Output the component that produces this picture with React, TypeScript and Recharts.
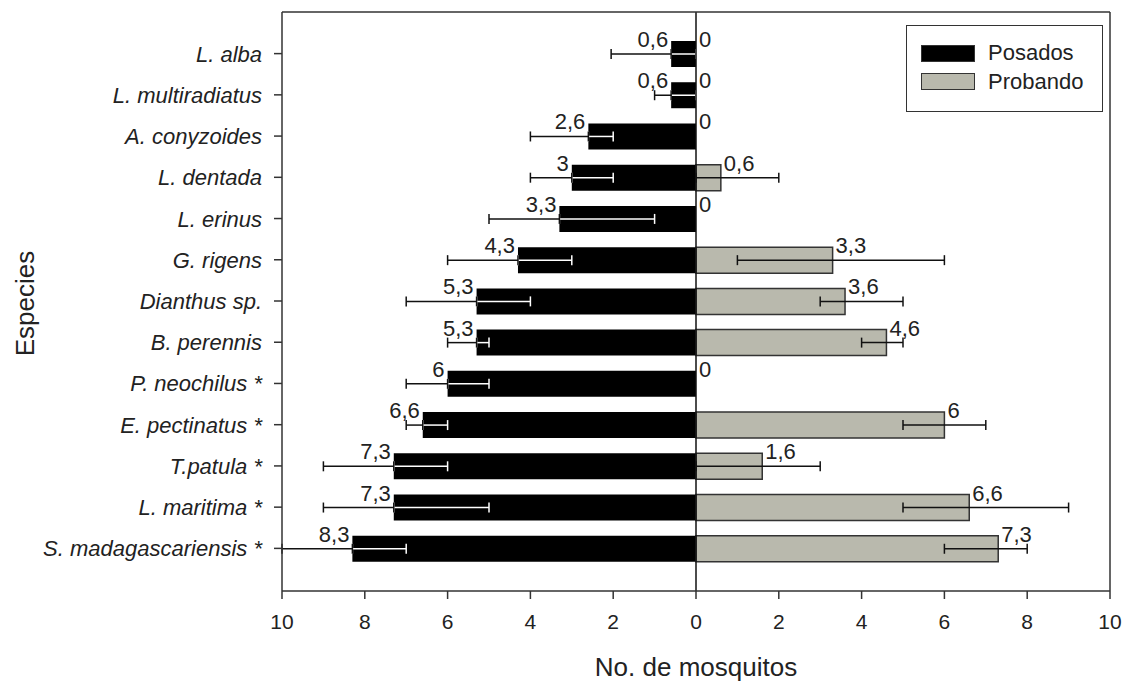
import {
  BarChart,
  Bar,
  XAxis,
  YAxis,
  ErrorBar,
  LabelList,
  ReferenceLine,
  Label,
} from "recharts"

const especies = [
  "L. alba",
  "L. multiradiatus",
  "A. conyzoides",
  "L. dentada",
  "L. erinus",
  "G. rigens",
  "Dianthus sp.",
  "B. perennis",
  "P. neochilus *",
  "E. pectinatus *",
  "T.patula *",
  "L. maritima *",
  "S. madagascariensis *",
]

// mean mosquitos landing (drawn to the left)
const posados = [0.6, 0.6, 2.6, 3, 3.3, 4.3, 5.3, 5.3, 6, 6.6, 7.3, 7.3, 8.3]
// ends of the Posados error bars: outer (away from 0) and inner (towards 0)
const posadosOuter = [2.05, 1, 4, 4, 5, 6, 7, 6, 7, 7, 9, 9, 10]
const posadosInner = [0, 0, 2, 2, 1, 3, 4, 5, 5, 6, 6, 5, 7]

// mean mosquitos probing (drawn to the right)
const probando = [0, 0, 0, 0.6, 0, 3.3, 3.6, 4.6, 0, 6, 1.6, 6.6, 7.3]
const probandoLow = [0, 0, 0, 0, 0, 1, 3, 4, 0, 5, 0, 5, 6]
const probandoHigh = [0, 0, 0, 2, 0, 6, 5, 5, 0, 7, 3, 9, 8]

const xTicks = [-10, -8, -6, -4, -2, 0, 2, 4, 6, 8, 10]

const FONT = "'Liberation Sans', Arial, Helvetica, sans-serif"
const TEXT = "#222"
const GRAY = "#b9b9ad"

const data = especies.map((name, i) => ({
  name,
  posados: -posados[i],
  posOuter: [posadosOuter[i] - posados[i], 0],
  posInner: [0, posados[i] - posadosInner[i]],
  probando: probando[i],
  probErr: [probando[i] - probandoLow[i], probandoHigh[i] - probando[i]],
}))

const fmt = (v: number) => String(Math.abs(v)).replace(".", ",")

const PosLabel = (props: any) => {
  const { x, y, width, value } = props
  const left = Math.min(x, x + width)
  return (
    <text x={left - 3} y={y + 6} textAnchor="end" fontSize={22} fontFamily={FONT} fill={TEXT}>
      {fmt(value)}
    </text>
  )
}

const ProbLabel = (props: any) => {
  const { x, y, width, value } = props
  if (!value) return null
  const right = Math.max(x, x + width)
  return (
    <text x={right + 3} y={y + 6} textAnchor="start" fontSize={22} fontFamily={FONT} fill={TEXT}>
      {fmt(value)}
    </text>
  )
}

// zero-valued Probando bars have no rectangle, so their "0" sits at the zero edge of the Posados bar
const ZeroProbLabel = (props: any) => {
  const { x, y, width, value } = props
  if (value !== 0) return null
  const zero = Math.max(x, x + width)
  return (
    <text x={zero + 3} y={y + 6} textAnchor="start" fontSize={22} fontFamily={FONT} fill={TEXT}>
      0
    </text>
  )
}

const SpeciesTick = (props: any) => {
  const { x, y, payload } = props
  return (
    <text x={x} y={y} dy={8} textAnchor="end" fontSize={22} fontStyle="italic" fontFamily={FONT} fill={TEXT}>
      {payload.value}
    </text>
  )
}

const legendItems = [
  { label: "Posados", fill: "#000" },
  { label: "Probando", fill: GRAY },
]

const ChartLegend = () => (
  <div
    style={{
      position: "absolute",
      left: 906,
      top: 25,
      width: 197,
      height: 87,
      boxSizing: "border-box",
      border: "1.5px solid #333",
      background: "#fff",
      padding: "13px 0 0 14px",
      fontFamily: FONT,
      fontSize: 22,
      color: TEXT,
    }}
  >
    {legendItems.map((it) => (
      <div key={it.label} style={{ display: "flex", alignItems: "center", height: 28.5 }}>
        <span
          style={{
            display: "inline-block",
            width: 54,
            height: 17,
            boxSizing: "border-box",
            background: it.fill,
            border: "1.5px solid #333",
            marginRight: 13,
          }}
        />
        {it.label}
      </div>
    ))}
  </div>
)

const YTitle = (props: any) => {
  const vb = props.viewBox
  const cx = vb.x + 25
  const cy = vb.y + vb.height / 2 + 2
  return (
    <text
      x={cx}
      y={cy}
      transform={`rotate(-90 ${cx} ${cy})`}
      textAnchor="middle"
      dominantBaseline="central"
      fontSize={26}
      fontFamily={FONT}
      fill={TEXT}
    >
      Especies
    </text>
  )
}

const XTitle = (props: any) => {
  const vb = props.viewBox
  return (
    <text
      x={vb.x + vb.width / 2}
      y={vb.y + 85}
      textAnchor="middle"
      fontSize={26}
      fontFamily={FONT}
      fill={TEXT}
    >
      No. de mosquitos
    </text>
  )
}

export default function App() {
  return (
    <div
      style={{
        position: "absolute",
        left: 0,
        top: 0,
        width: 1130,
        height: 686,
        overflow: "hidden",
        background: "#fff",
      }}
    >
      <BarChart
        width={1130}
        height={686}
        data={data}
        layout="vertical"
        stackOffset="sign"
        margin={{ top: 11, right: 19, left: 0, bottom: 0 }}
      >
        <XAxis
          type="number"
          domain={[-10, 10]}
          ticks={xTicks}
          allowDataOverflow
          tickFormatter={(v: number) => String(Math.abs(v))}
          height={95}
          tickSize={8}
          tickMargin={15}
          axisLine={{ stroke: "#333", strokeWidth: 1.5 }}
          tickLine={{ stroke: "#333", strokeWidth: 1.5 }}
          tick={{ fontSize: 21, fontFamily: FONT, fill: TEXT }}
        >
          <Label content={<XTitle />} />
        </XAxis>
        <XAxis
          xAxisId="top"
          orientation="top"
          type="number"
          domain={[-10, 10]}
          height={1}
          tick={false}
          tickLine={false}
          axisLine={{ stroke: "#333", strokeWidth: 1.5 }}
        />
        <YAxis
          type="category"
          dataKey="name"
          width={282}
          interval={0}
          padding={{ top: 21, bottom: 22 }}
          tickSize={8}
          tickMargin={12}
          axisLine={{ stroke: "#333", strokeWidth: 1.5 }}
          tickLine={{ stroke: "#333", strokeWidth: 1.5 }}
          tick={<SpeciesTick />}
        >
          <Label content={<YTitle />} />
        </YAxis>
        <YAxis
          yAxisId="right"
          orientation="right"
          type="category"
          dataKey="name"
          width={1}
          tick={false}
          tickLine={false}
          axisLine={{ stroke: "#333", strokeWidth: 1.5 }}
        />
        <Bar dataKey="posados" name="Posados" stackId="a" fill="#000" barSize={26} isAnimationActive={false}>
          <ErrorBar dataKey="posInner" direction="x" width={5} stroke="#fff" strokeWidth={1.5} />
          <ErrorBar dataKey="posOuter" direction="x" width={5} stroke="#111" strokeWidth={1.5} />
          <LabelList dataKey="posados" content={<PosLabel />} />
          <LabelList dataKey="probando" content={<ZeroProbLabel />} />
        </Bar>
        <Bar
          dataKey="probando"
          name="Probando"
          stackId="a"
          fill={GRAY}
          stroke="#333"
          strokeWidth={1.5}
          barSize={26}
          isAnimationActive={false}
        >
          <ErrorBar dataKey="probErr" direction="x" width={5} stroke="#111" strokeWidth={1.5} />
          <LabelList dataKey="probando" content={<ProbLabel />} />
        </Bar>
        <ReferenceLine x={0} stroke="#111" strokeWidth={1.5} />
      </BarChart>
      <ChartLegend />
    </div>
  )
}
